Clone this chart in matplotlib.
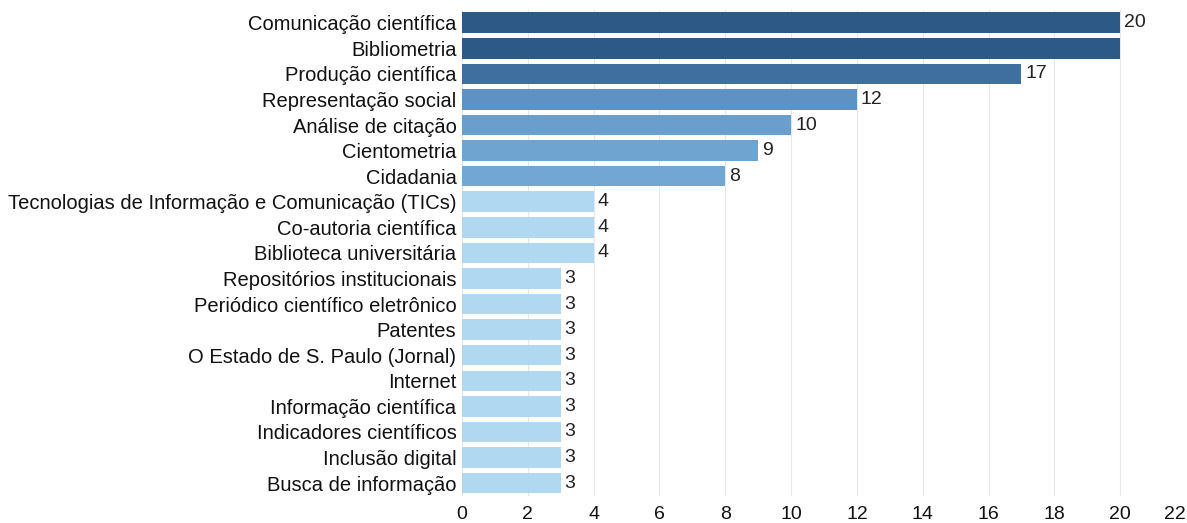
import matplotlib
matplotlib.use("Agg")
import matplotlib.pyplot as plt

plt.rcParams['font.family'] = ['Liberation Sans', 'DejaVu Sans']

temas = [
    "Comunicação científica",
    "Bibliometria",
    "Produção científica",
    "Representação social",
    "Análise de citação",
    "Cientometria",
    "Cidadania",
    "Tecnologias de Informação e Comunicação (TICs)",
    "Co-autoria científica",
    "Biblioteca universitária",
    "Repositórios institucionais",
    "Periódico científico eletrônico",
    "Patentes",
    "O Estado de S. Paulo (Jornal)",
    "Internet",
    "Informação científica",
    "Indicadores científicos",
    "Inclusão digital",
    "Busca de informação",
]
frequencia = [20, 20, 17, 12, 10, 9, 8, 4, 4, 4, 3, 3, 3, 3, 3, 3, 3, 3, 3]
# rótulo só aparece onde a planilha original mostrava o valor
mostrar_valor = [True, False] + [True] * 17

cores = {20: "#2c5986", 17: "#3f6f9e", 12: "#5e91c4", 10: "#6a9ecd",
         9: "#6fa4d1", 8: "#72a7d3", 4: "#b0d8f0", 3: "#b0d8f0"}

fig = plt.figure(figsize=(11.87, 5.23), dpi=100)
ax = fig.add_axes([462 / 1187, 0.052, 724 / 1187, 0.929])

pos = range(len(temas))
barras = ax.barh(pos, frequencia, height=0.8,
                 color=[cores[v] for v in frequencia], zorder=2)

for b, v, m in zip(barras, frequencia, mostrar_valor):
    if m:
        ax.text(b.get_width() + 0.12, b.get_y() + b.get_height() / 2, str(v),
                va="center", ha="left", fontsize=14, color="#222222")

ax.set_xlim(0, 22)
ax.set_ylim(len(temas) - 0.5, -0.5)
ax.set_xticks(range(0, 23, 2))
ax.set_yticks(list(pos))
ax.set_yticklabels(temas, fontsize=14.5, color="#111111")
ax.tick_params(axis="both", length=0, pad=4)
ax.tick_params(axis="x", labelsize=14, labelcolor="#111111", pad=7)
ax.xaxis.grid(True, color="#e6e6e6", linewidth=0.8, zorder=0)
for s in ax.spines.values():
    s.set_visible(False)

# último rótulo encostado na borda direita
ax.get_xticklabels()[-1].set_horizontalalignment("right")

fig.savefig("out.png", dpi=100)
